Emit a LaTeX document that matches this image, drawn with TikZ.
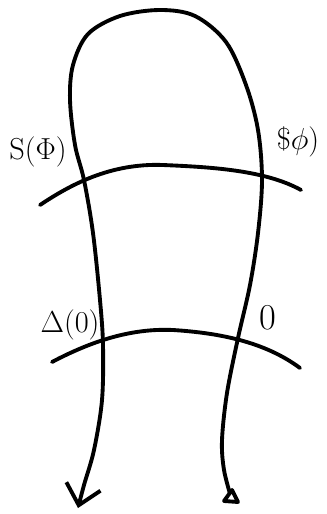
\documentclass[tikz,border=0pt]{standalone}
\usetikzlibrary{arrows.meta}
\begin{document}
\begin{tikzpicture}[x=0.02cm, y=-0.02cm, line width=2.2pt, line cap=round, line join=round,
  lbl/.style={font=\LARGE, inner sep=1pt}]
\useasboundingbox (0,0) rectangle (327,514);
% ends of the strand and of the two slices
\coordinate (tail) at (231,497);
\coordinate (head) at (78,508);
\coordinate (topL) at (40,205);
\coordinate (topR) at (301,190);
\coordinate (lowL) at (52,362);
\coordinate (lowR) at (300,368);
% labels
\node[lbl] (sl) at (38,152) {S($\Phi$)};
\node[lbl] (sr) at (298,142) {\$$\phi$)};
\node[lbl] (dl) at (70,325) {$\Delta$(0)};
\node[lbl, font=\huge] (dr) at (268,318) {0};
% the strand
\draw[-{Straight Barb[length=11pt,width=20pt]}] plot[smooth, tension=0.55] coordinates {
  (tail) (224,470) (222,440) (227,393) (238,338) (250,285) (258,233)
  (262,180) (258,130) (246,85) (226,42) (195,16) (160,10) (120,16)
  (88,34) (73,65) (70,100) (75,145) (84,180) (93,233) (100,300)
  (103,345) (102,400) (94,450) (84,485) (head)};
\draw[fill=white] (tail) ++(-7,4) -- ++(14,1) -- ++(-6,-12) -- cycle;
% the two slices
\draw (topL) .. controls (70,185) and (110,163) .. (163,165)
  .. controls (210,167) and (265,170) .. (topR);
\draw (lowL) .. controls (90,342) and (130,328) .. (173,330)
  .. controls (220,333) and (265,342) .. (lowR);
\end{tikzpicture}
\end{document}
